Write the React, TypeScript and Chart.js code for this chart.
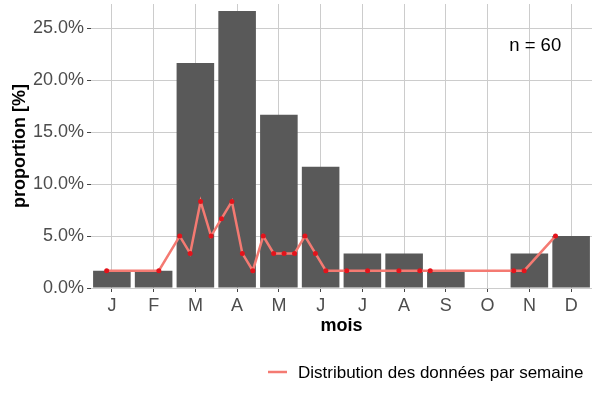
import { useRef, useEffect } from 'react';
import Chart from 'chart.js/auto';

// monthly proportions (%)
const months = ['J', 'F', 'M', 'A', 'M', 'J', 'J', 'A', 'S', 'O', 'N', 'D'];
const monthValues = [1.67, 1.67, 21.67, 26.67, 16.67, 11.67, 3.33, 3.33, 1.67, 0, 3.33, 5.0];

// weekly distribution, position expressed in month units (J = 1)
const weekPos = [
  0.875, 2.125, 2.625, 2.875, 3.125, 3.375, 3.625, 3.875, 4.125, 4.375, 4.625, 4.875,
  5.125, 5.375, 5.625, 5.875, 6.125, 6.625, 7.125, 7.875, 8.375, 8.625, 10.625, 10.875, 11.625
];
const weekValues = [
  1.67, 1.67, 5.0, 3.33, 8.33, 5.0, 6.67, 8.33, 3.33, 1.67, 5.0, 3.33,
  3.33, 3.33, 5.0, 3.33, 1.67, 1.67, 1.67, 1.67, 1.67, 1.67, 1.67, 1.67, 5.0
];

const yTicks = [0, 5, 10, 15, 20, 25];
const sampleLabel = 'n = 60';
const legendLabel = 'Distribution des données par semaine';

const FONT = '"Liberation Sans", Arial, sans-serif';
const LINE_COLOR = '#f47a72';

export default function App() {
  const chartRef = useRef<HTMLCanvasElement>(null);
  const chartInstance = useRef<Chart | null>(null);

  useEffect(() => {
    document.body.style.margin = '0';
    if (!chartRef.current) return;
    if (chartInstance.current) chartInstance.current.destroy();
    const ctx = chartRef.current.getContext('2d');
    if (!ctx) return;

    // "n = 60" annotation, placed in data coordinates
    const annotation = {
      id: 'annotation',
      afterDatasetsDraw(chart: any) {
        const c = chart.ctx;
        const x = chart.scales.x2.getPixelForValue(11.14);
        const y = chart.scales.y.getPixelForValue(23.3);
        c.save();
        c.font = `18.5px ${FONT}`;
        c.fillStyle = '#000';
        c.textAlign = 'center';
        c.textBaseline = 'middle';
        c.fillText(sampleLabel, x, y);
        c.restore();
      }
    };

    // legend below the x axis title, right side
    const bottomLegend = {
      id: 'bottomLegend',
      afterDraw(chart: any) {
        const c = chart.ctx;
        const y = 372;
        c.save();
        c.strokeStyle = LINE_COLOR;
        c.lineWidth = 2.5;
        c.beginPath();
        c.moveTo(268, y);
        c.lineTo(287, y);
        c.stroke();
        c.font = `17px ${FONT}`;
        c.fillStyle = '#000';
        c.textAlign = 'left';
        c.textBaseline = 'middle';
        c.fillText(legendLabel, 298, y + 1);
        c.restore();
      }
    };

    chartInstance.current = new Chart(ctx, {
      type: 'bar',
      data: {
        labels: months,
        datasets: [
          {
            type: 'bar',
            data: monthValues,
            backgroundColor: '#595959',
            borderWidth: 0,
            barPercentage: 0.9,
            categoryPercentage: 1.0,
            grouped: false,
            order: 2
          },
          {
            type: 'line',
            label: legendLabel,
            xAxisID: 'x2',
            data: weekPos.map((x, i) => ({ x, y: weekValues[i] })),
            borderColor: LINE_COLOR,
            borderWidth: 2.5,
            pointRadius: 2.5,
            pointBackgroundColor: '#e3131b',
            pointBorderWidth: 0,
            tension: 0,
            order: 1
          } as any
        ]
      },
      options: {
        responsive: false,
        animation: false,
        layout: { padding: { top: 0, right: 8, bottom: 57, left: 0 } },
        plugins: {
          legend: { display: false },
          tooltip: { enabled: false }
        },
        scales: {
          x: {
            offset: true,
            grid: { offset: false, color: '#cccccc', tickColor: '#444', tickLength: 4 },
            border: { display: false },
            ticks: { color: '#4d4d4d', font: { family: FONT, size: 18 }, padding: 3 },
            title: {
              display: true,
              text: 'mois',
              color: '#000',
              font: { family: FONT, size: 18, weight: 'bold' },
              padding: { top: 0, bottom: 6 }
            },
            afterFit: (scale: any) => {
              scale.height = 55;
              scale.paddingLeft = 0;
              scale.paddingRight = 0;
            }
          },
          x2: {
            type: 'linear',
            display: false,
            offset: false,
            min: 0.5,
            max: 12.5
          },
          y: {
            min: 0,
            max: 27.34,
            grid: { color: '#cccccc', tickColor: '#444', tickLength: 4 },
            border: { display: false },
            afterBuildTicks: (scale: any) => {
              scale.ticks = yTicks.map(v => ({ value: v }));
            },
            ticks: {
              color: '#4d4d4d',
              font: { family: FONT, size: 18 },
              padding: 3,
              callback: (v: any) => `${Number(v).toFixed(1)}%`
            },
            title: {
              display: true,
              text: 'proportion [%]',
              color: '#000',
              font: { family: FONT, size: 18, weight: 'bold' },
              padding: { top: 9, bottom: 0 }
            },
            afterFit: (scale: any) => {
              scale.width = 91;
              scale.paddingTop = 0;
              scale.paddingBottom = 0;
            }
          }
        }
      } as any,
      plugins: [annotation, bottomLegend]
    });

    return () => {
      if (chartInstance.current) {
        chartInstance.current.destroy();
        chartInstance.current = null;
      }
    };
  }, []);

  return (
    <div style={{ width: 600, height: 400 }}>
      <canvas ref={chartRef} width={600} height={400} />
    </div>
  );
}
